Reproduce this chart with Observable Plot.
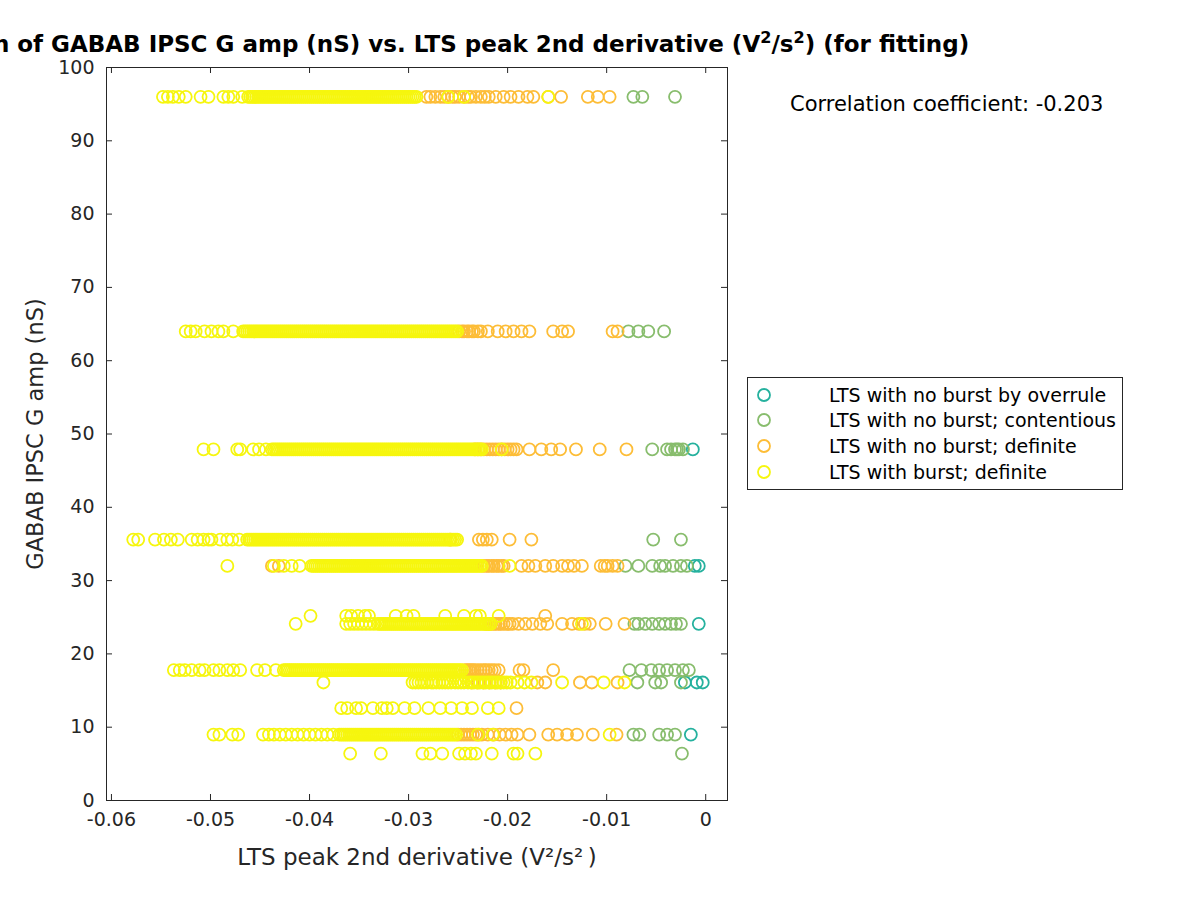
<!DOCTYPE html>
<html>
<head>
<meta charset="utf-8">
<script src="https://cdn.jsdelivr.net/npm/d3@7"></script>
<script src="https://cdn.jsdelivr.net/npm/@observablehq/plot@0.6"></script>
<style>
  html, body { margin: 0; padding: 0; background: #fff; overflow: hidden; }
  #wrap { position: relative; width: 1200px; height: 900px; overflow: hidden; background: #fff; font-family: "DejaVu Sans", sans-serif; color: #000; }
  #chart { position: absolute; left: 0; top: 0; }
  .title { position: absolute; left: 416.5px; top: 28px; transform: translateX(-50%); white-space: nowrap; font-weight: bold; font-size: 23px; line-height: 32px; }
  .title sup { font-size: 0.7em; line-height: 0; vertical-align: 0.55em; }
  .corr { position: absolute; left: 790px; top: 91px; font-size: 21px; line-height: 26px; white-space: nowrap; }
  .legend { position: absolute; left: 747px; top: 377px; width: 374px; height: 111px; border: 1px solid #262626; background: #fff; font-size: 19px; }
  .legend .item { position: absolute; left: 0; height: 24px; line-height: 24px; white-space: nowrap; }
  .legend svg { position: absolute; left: 8px; top: 4px; }
  .legend span { position: absolute; left: 81px; top: 0; }
</style>
</head>
<body>
<div id="wrap">
  <div id="chart"></div>
  <div class="title">Correlation of GABAB IPSC G amp (nS) vs. LTS peak 2nd derivative (V<sup>2</sup>/s<sup>2</sup>) (for fitting)</div>
  <div class="corr" id="corr"></div>
  <div class="legend" id="legend"></div>
</div>
<script>
// ---------------- categories ----------------
const categories = ["LTS with no burst by overrule", "LTS with no burst; contentious", "LTS with no burst; definite", "LTS with burst; definite"];
const categoryColors = ["#25b19e", "#88bd6d", "#fdbd37", "#f6f60e"];
const correlationText = "Correlation coefficient: -0.203";

const xTicks = [-0.06, -0.05, -0.04, -0.03, -0.02, -0.01, 0];
const yTicks = [0, 10, 20, 30, 40, 50, 60, 70, 80, 90, 100];
const xLabel = "LTS peak 2nd derivative (V²/s²\u2009)";
const yLabel = "GABAB IPSC G amp (nS)";

// ---------------- GABAB G amp levels (nS) ----------------
const yLevels = [96, 64, 47.9, 35.6, 32, 25.2, 24.1, 17.8, 16.1, 12.6, 9, 6.4];

// ---------------- LTS with no burst by overrule ----------------
const overrule_47_9 = [-0.0013];
const overrule_32 = [-0.0011, -0.0007];
const overrule_24_1 = [-0.0007];
const overrule_16_1 = [-0.0021, -0.0009, -0.0003];
const overrule_9 = [-0.0015];

// ---------------- LTS with no burst; contentious ----------------
const contentious_96 = [-0.0073, -0.0064, -0.0031];
const contentious_64 = [-0.0078, -0.0068, -0.0058, -0.0042];
const contentious_47_9 = [-0.0054, -0.0039, -0.0035, -0.0031, -0.0029, -0.0027, -0.0023];
const contentious_35_6 = [-0.0053, -0.0025];
const contentious_32 = [-0.0081, -0.0068, -0.0054, -0.0046, -0.0041, -0.0033, -0.0025, -0.0019];
const contentious_24_1 = [-0.0072, -0.0068, -0.0061, -0.0054, -0.0047, -0.0041, -0.0035, -0.0030, -0.0025];
const contentious_17_8 = [-0.0077, -0.0065, -0.0055, -0.0047, -0.0039, -0.0031, -0.0023, -0.0017];
const contentious_16_1 = [-0.0069, -0.0051, -0.0045, -0.0025];
const contentious_9 = [-0.0073, -0.0067, -0.0047, -0.0039, -0.0031];
const contentious_6_4 = [-0.0024];

// ---------------- LTS with no burst; definite ----------------
const noBurst_96 = [-0.0282, -0.0278, -0.0273, -0.0268, -0.0264, -0.0260, -0.0256, -0.0253, -0.0249, -0.0244, -0.0240, -0.0237, -0.0232, -0.0227, -0.0223, -0.0219, -0.0212, -0.0204, -0.0197, -0.0189, -0.0180, -0.0174, -0.0159, -0.0146, -0.0119, -0.0109, -0.0097];
const noBurst_64 = [-0.0249, -0.0246, -0.0244, -0.0241, -0.0239, -0.0236, -0.0234, -0.0230, -0.0227, -0.0220, -0.0210, -0.0202, -0.0194, -0.0186, -0.0178, -0.0154, -0.0145, -0.0139, -0.0094, -0.0089];
const noBurst_47_9 = [-0.0233, -0.0230, -0.0227, -0.0224, -0.0221, -0.0218, -0.0215, -0.0212, -0.0209, -0.0206, -0.0203, -0.0200, -0.0197, -0.0194, -0.0191, -0.0178, -0.0166, -0.0156, -0.0147, -0.0131, -0.0107, -0.0080];
const noBurst_35_6 = [-0.0258, -0.0229, -0.0225, -0.0221, -0.0216, -0.0198, -0.0176];
const noBurst_32 = [-0.0438, -0.0431, -0.0224, -0.0221, -0.0219, -0.0216, -0.0214, -0.0211, -0.0209, -0.0206, -0.0204, -0.0186, -0.0179, -0.0172, -0.0162, -0.0154, -0.0145, -0.0139, -0.0133, -0.0125, -0.0106, -0.0102, -0.0099, -0.0094, -0.0089];
const noBurst_25_2 = [-0.0162];
const noBurst_24_1 = [-0.0222, -0.0219, -0.0217, -0.0214, -0.0212, -0.0209, -0.0207, -0.0204, -0.0201, -0.0198, -0.0195, -0.0189, -0.0182, -0.0175, -0.0167, -0.0160, -0.0145, -0.0135, -0.0128, -0.0122, -0.0117, -0.0101, -0.0082];
const noBurst_17_8 = [-0.0243, -0.0241, -0.0239, -0.0237, -0.0235, -0.0233, -0.0230, -0.0227, -0.0224, -0.0222, -0.0219, -0.0216, -0.0213, -0.0209, -0.0188, -0.0184, -0.0154];
const noBurst_16_1 = [-0.0236, -0.0230, -0.0224, -0.0218, -0.0212, -0.0207, -0.0170, -0.0162, -0.0127, -0.0115, -0.0089];
const noBurst_12_6 = [-0.0191];
const noBurst_9 = [-0.0250, -0.0247, -0.0244, -0.0241, -0.0238, -0.0235, -0.0232, -0.0229, -0.0226, -0.0220, -0.0214, -0.0208, -0.0202, -0.0196, -0.0190, -0.0178, -0.0159, -0.0150, -0.0140, -0.0130, -0.0114, -0.0090];

// ---------------- LTS with burst; definite ----------------
const burst_96 = [-0.0548, -0.0543, -0.0538, -0.0532, -0.0525, -0.0510, -0.0502, -0.0487, -0.0482, -0.0477, -0.0468,
  -0.0462, -0.0460, -0.0458, -0.0456, -0.0454, -0.0452, -0.0450, -0.0448, -0.0446, -0.0444, -0.0442, -0.0440, -0.0438, -0.0436, -0.0434, -0.0432, -0.0430, -0.0428, -0.0426, -0.0424,
  -0.0422, -0.0420, -0.0418, -0.0416, -0.0414, -0.0412, -0.0410, -0.0408, -0.0406, -0.0404, -0.0402, -0.0400, -0.0398, -0.0396, -0.0394, -0.0392, -0.0390, -0.0388, -0.0386, -0.0384,
  -0.0382, -0.0380, -0.0378, -0.0376, -0.0374, -0.0372, -0.0370, -0.0368, -0.0366, -0.0364, -0.0362, -0.0360, -0.0358, -0.0356, -0.0354, -0.0352, -0.0350, -0.0348, -0.0346, -0.0344,
  -0.0342, -0.0340, -0.0338, -0.0336, -0.0334, -0.0332, -0.0330, -0.0328, -0.0326, -0.0324, -0.0322, -0.0320, -0.0318, -0.0316, -0.0314, -0.0312, -0.0310, -0.0308, -0.0306, -0.0304,
  -0.0302, -0.0300, -0.0298, -0.0296, -0.0294, -0.0292, -0.0260, -0.0244, -0.0159];
const burst_64 = [-0.0525, -0.0520, -0.0515, -0.0506, -0.0499, -0.0492, -0.0487, -0.0477,
  -0.0467, -0.0465, -0.0463, -0.0461, -0.0459, -0.0457, -0.0455, -0.0453, -0.0451, -0.0449, -0.0447, -0.0445, -0.0443, -0.0441, -0.0439, -0.0437, -0.0435, -0.0433, -0.0431, -0.0429,
  -0.0427, -0.0425, -0.0423, -0.0421, -0.0419, -0.0417, -0.0415, -0.0413, -0.0411, -0.0409, -0.0407, -0.0405, -0.0403, -0.0401, -0.0399, -0.0397, -0.0395, -0.0393, -0.0391, -0.0389,
  -0.0387, -0.0385, -0.0383, -0.0381, -0.0379, -0.0377, -0.0375, -0.0373, -0.0371, -0.0369, -0.0367, -0.0365, -0.0363, -0.0361, -0.0359, -0.0357, -0.0355, -0.0353, -0.0351, -0.0349,
  -0.0347, -0.0345, -0.0343, -0.0341, -0.0339, -0.0337, -0.0335, -0.0333, -0.0331, -0.0329, -0.0327, -0.0325, -0.0323, -0.0321, -0.0319, -0.0317, -0.0315, -0.0313, -0.0311, -0.0309,
  -0.0307, -0.0305, -0.0303, -0.0301, -0.0299, -0.0297, -0.0295, -0.0293, -0.0291, -0.0289, -0.0287, -0.0285, -0.0283, -0.0281, -0.0279, -0.0277, -0.0275, -0.0273, -0.0271, -0.0269,
  -0.0267, -0.0265, -0.0263, -0.0261, -0.0259, -0.0257, -0.0255, -0.0253, -0.0251];
const burst_47_9 = [-0.0507, -0.0497, -0.0473, -0.0470, -0.0457, -0.0451, -0.0444,
  -0.0438, -0.0436, -0.0434, -0.0432, -0.0430, -0.0428, -0.0426, -0.0424, -0.0422, -0.0420, -0.0418, -0.0416, -0.0414, -0.0412, -0.0410, -0.0408, -0.0406, -0.0404, -0.0402, -0.0400,
  -0.0398, -0.0396, -0.0394, -0.0392, -0.0390, -0.0388, -0.0386, -0.0384, -0.0382, -0.0380, -0.0378, -0.0376, -0.0374, -0.0372, -0.0370, -0.0368, -0.0366, -0.0364, -0.0362, -0.0360,
  -0.0358, -0.0356, -0.0354, -0.0352, -0.0350, -0.0348, -0.0346, -0.0344, -0.0342, -0.0340, -0.0338, -0.0336, -0.0334, -0.0332, -0.0330, -0.0328, -0.0326, -0.0324, -0.0322, -0.0320,
  -0.0318, -0.0316, -0.0314, -0.0312, -0.0310, -0.0308, -0.0306, -0.0304, -0.0302, -0.0300, -0.0298, -0.0296, -0.0294, -0.0292, -0.0290, -0.0288, -0.0286, -0.0284, -0.0282, -0.0280,
  -0.0278, -0.0276, -0.0274, -0.0272, -0.0270, -0.0268, -0.0266, -0.0264, -0.0262, -0.0260, -0.0258, -0.0256, -0.0254, -0.0252, -0.0250, -0.0248, -0.0246, -0.0244, -0.0242, -0.0240,
  -0.0238, -0.0236, -0.0234, -0.0232, -0.0230, -0.0228, -0.0226, -0.0206];
const burst_35_6 = [-0.0578, -0.0573, -0.0556, -0.0547, -0.0540, -0.0533, -0.0519, -0.0513, -0.0507, -0.0502, -0.0499, -0.0490, -0.0483, -0.0478, -0.0471,
  -0.0463, -0.0461, -0.0459, -0.0457, -0.0455, -0.0453, -0.0451, -0.0449, -0.0447, -0.0445, -0.0443, -0.0441, -0.0439, -0.0437, -0.0435, -0.0433, -0.0431, -0.0429, -0.0427, -0.0425,
  -0.0423, -0.0421, -0.0419, -0.0417, -0.0415, -0.0413, -0.0411, -0.0409, -0.0407, -0.0405, -0.0403, -0.0401, -0.0399, -0.0397, -0.0395, -0.0393, -0.0391, -0.0389, -0.0387, -0.0385,
  -0.0383, -0.0381, -0.0379, -0.0377, -0.0375, -0.0373, -0.0371, -0.0369, -0.0367, -0.0365, -0.0363, -0.0361, -0.0359, -0.0357, -0.0355, -0.0353, -0.0351, -0.0349, -0.0347, -0.0345,
  -0.0343, -0.0341, -0.0339, -0.0337, -0.0335, -0.0333, -0.0331, -0.0329, -0.0327, -0.0325, -0.0323, -0.0321, -0.0319, -0.0317, -0.0315, -0.0313, -0.0311, -0.0309, -0.0307, -0.0305,
  -0.0303, -0.0301, -0.0299, -0.0297, -0.0295, -0.0293, -0.0291, -0.0289, -0.0287, -0.0285, -0.0283, -0.0281, -0.0279, -0.0277, -0.0275, -0.0273, -0.0271, -0.0269, -0.0267, -0.0265,
  -0.0263, -0.0261, -0.0259, -0.0257, -0.0255, -0.0253, -0.0251];
const burst_32 = [-0.0483, -0.0436, -0.0426, -0.0418, -0.0410,
  -0.0398, -0.0396, -0.0394, -0.0392, -0.0390, -0.0388, -0.0386, -0.0384, -0.0382, -0.0380, -0.0378, -0.0376, -0.0374, -0.0372, -0.0370, -0.0368, -0.0366, -0.0364, -0.0362, -0.0360,
  -0.0358, -0.0356, -0.0354, -0.0352, -0.0350, -0.0348, -0.0346, -0.0344, -0.0342, -0.0340, -0.0338, -0.0336, -0.0334, -0.0332, -0.0330, -0.0328, -0.0326, -0.0324, -0.0322, -0.0320,
  -0.0318, -0.0316, -0.0314, -0.0312, -0.0310, -0.0308, -0.0306, -0.0304, -0.0302, -0.0300, -0.0298, -0.0296, -0.0294, -0.0292, -0.0290, -0.0288, -0.0286, -0.0284, -0.0282, -0.0280,
  -0.0278, -0.0276, -0.0274, -0.0272, -0.0270, -0.0268, -0.0266, -0.0264, -0.0262, -0.0260, -0.0258, -0.0256, -0.0254, -0.0252, -0.0250, -0.0248, -0.0246, -0.0244, -0.0242, -0.0240,
  -0.0238, -0.0236, -0.0234, -0.0232, -0.0230, -0.0228, -0.0226, -0.0198];
const burst_25_2 = [-0.0399, -0.0363, -0.0358, -0.0351, -0.0344, -0.0340, -0.0313, -0.0302, -0.0295, -0.0263, -0.0244, -0.0232, -0.0228, -0.0209];
const burst_24_1 = [-0.0414, -0.0363, -0.0359, -0.0355, -0.0351, -0.0347, -0.0343, -0.0339, -0.0335, -0.0331,
  -0.0329, -0.0327, -0.0325, -0.0323, -0.0321, -0.0319, -0.0317, -0.0315, -0.0313, -0.0311, -0.0309, -0.0307, -0.0305, -0.0303, -0.0301, -0.0299, -0.0297, -0.0295, -0.0293, -0.0291,
  -0.0289, -0.0287, -0.0285, -0.0283, -0.0281, -0.0279, -0.0277, -0.0275, -0.0273, -0.0271, -0.0269, -0.0267, -0.0265, -0.0263, -0.0261, -0.0259, -0.0257, -0.0255, -0.0253, -0.0251,
  -0.0249, -0.0247, -0.0245, -0.0243, -0.0241, -0.0239, -0.0237, -0.0235, -0.0233, -0.0231, -0.0229, -0.0227, -0.0225, -0.0223, -0.0221, -0.0219, -0.0217, -0.0125];
const burst_17_8 = [-0.0537, -0.0531, -0.0526, -0.0519, -0.0511, -0.0506, -0.0497, -0.0491, -0.0483, -0.0477, -0.0470, -0.0453, -0.0445, -0.0434,
  -0.0426, -0.0424, -0.0422, -0.0420, -0.0418, -0.0416, -0.0414, -0.0412, -0.0410, -0.0408, -0.0406, -0.0404, -0.0402, -0.0400, -0.0398, -0.0396, -0.0394, -0.0392, -0.0390, -0.0388,
  -0.0386, -0.0384, -0.0382, -0.0380, -0.0378, -0.0376, -0.0374, -0.0372, -0.0370, -0.0368, -0.0366, -0.0364, -0.0362, -0.0360, -0.0358, -0.0356, -0.0354, -0.0352, -0.0350, -0.0348,
  -0.0346, -0.0344, -0.0342, -0.0340, -0.0338, -0.0336, -0.0334, -0.0332, -0.0330, -0.0328, -0.0326, -0.0324, -0.0322, -0.0320, -0.0318, -0.0316, -0.0314, -0.0312, -0.0310, -0.0308,
  -0.0306, -0.0304, -0.0302, -0.0300, -0.0298, -0.0296, -0.0294, -0.0292, -0.0290, -0.0288, -0.0286, -0.0284, -0.0282, -0.0280, -0.0278, -0.0276, -0.0274, -0.0272, -0.0270, -0.0268,
  -0.0266, -0.0264, -0.0262, -0.0260, -0.0258, -0.0256, -0.0254, -0.0252, -0.0250, -0.0248, -0.0246];
const burst_16_1 = [-0.0386, -0.0296, -0.0293, -0.0290, -0.0287, -0.0284, -0.0281, -0.0277, -0.0275, -0.0272, -0.0269, -0.0266, -0.0263, -0.0260, -0.0257, -0.0253, -0.0250, -0.0247,
  -0.0244, -0.0240, -0.0237, -0.0234, -0.0231, -0.0228, -0.0225, -0.0222, -0.0219, -0.0216, -0.0213, -0.0210, -0.0207, -0.0204, -0.0201, -0.0197, -0.0190, -0.0183, -0.0176,
  -0.0145, -0.0103, -0.0082];
const burst_12_6 = [-0.0368, -0.0362, -0.0353, -0.0348, -0.0336, -0.0327, -0.0322, -0.0316, -0.0304, -0.0294, -0.0280, -0.0268, -0.0257, -0.0246, -0.0236, -0.0220, -0.0209];
const burst_9 = [-0.0497, -0.0491, -0.0478, -0.0472, -0.0447, -0.0441, -0.0436, -0.0430, -0.0424, -0.0418, -0.0412, -0.0406, -0.0400, -0.0394, -0.0388, -0.0382, -0.0376,
  -0.0370, -0.0368, -0.0366, -0.0364, -0.0362, -0.0360, -0.0358, -0.0356, -0.0354, -0.0352, -0.0350, -0.0348, -0.0346, -0.0344, -0.0342, -0.0340, -0.0338, -0.0336, -0.0334, -0.0332,
  -0.0330, -0.0328, -0.0326, -0.0324, -0.0322, -0.0320, -0.0318, -0.0316, -0.0314, -0.0312, -0.0310, -0.0308, -0.0306, -0.0304, -0.0302, -0.0300, -0.0298, -0.0296, -0.0294, -0.0292,
  -0.0290, -0.0288, -0.0286, -0.0284, -0.0282, -0.0280, -0.0278, -0.0276, -0.0274, -0.0272, -0.0270, -0.0268, -0.0266, -0.0264, -0.0262, -0.0260, -0.0258, -0.0256, -0.0254, -0.0252,
  -0.0230, -0.0215, -0.0097];
const burst_6_4 = [-0.0359, -0.0328, -0.0286, -0.0278, -0.0266, -0.0249, -0.0243, -0.0237, -0.0232, -0.0216, -0.0194, -0.0190, -0.0172];

// ---------------- assemble (category index, G amp level, x values) ----------------
const groups = [
  [0, yLevels[2], overrule_47_9], [0, yLevels[4], overrule_32], [0, yLevels[6], overrule_24_1], [0, yLevels[8], overrule_16_1], [0, yLevels[10], overrule_9],
  [1, yLevels[0], contentious_96], [1, yLevels[1], contentious_64], [1, yLevels[2], contentious_47_9], [1, yLevels[3], contentious_35_6], [1, yLevels[4], contentious_32],
  [1, yLevels[6], contentious_24_1], [1, yLevels[7], contentious_17_8], [1, yLevels[8], contentious_16_1], [1, yLevels[10], contentious_9], [1, yLevels[11], contentious_6_4],
  [2, yLevels[0], noBurst_96], [2, yLevels[1], noBurst_64], [2, yLevels[2], noBurst_47_9], [2, yLevels[3], noBurst_35_6], [2, yLevels[4], noBurst_32], [2, yLevels[5], noBurst_25_2],
  [2, yLevels[6], noBurst_24_1], [2, yLevels[7], noBurst_17_8], [2, yLevels[8], noBurst_16_1], [2, yLevels[9], noBurst_12_6], [2, yLevels[10], noBurst_9],
  [3, yLevels[0], burst_96], [3, yLevels[1], burst_64], [3, yLevels[2], burst_47_9], [3, yLevels[3], burst_35_6], [3, yLevels[4], burst_32], [3, yLevels[5], burst_25_2],
  [3, yLevels[6], burst_24_1], [3, yLevels[7], burst_17_8], [3, yLevels[8], burst_16_1], [3, yLevels[9], burst_12_6], [3, yLevels[10], burst_9], [3, yLevels[11], burst_6_4]
];
const table = [];
for (const [ci, y, xs] of groups) for (const x of xs) table.push({x, y, cat: categories[ci], order: ci});
table.sort((a, b) => a.order - b.order);

// ---------------- layout ----------------
const W = 1200, H = 900;
const mL = 106, mR = 473, mT = 67, mB = 100;
const innerW = W - mL - mR, innerH = H - mT - mB;
const axisColor = "#262626";
const tickLen = 6;

const chart = Plot.plot({
  width: W, height: H,
  marginLeft: mL, marginRight: mR, marginTop: mT, marginBottom: mB,
  style: {fontFamily: "DejaVu Sans", background: "white", color: axisColor, overflow: "visible"},
  x: {domain: [-0.0605, 0.0022]},
  y: {domain: [0, 100]},
  color: {domain: categories, range: categoryColors},
  marks: [
    Plot.dot(table, {x: "x", y: "y", stroke: "cat", r: 6, strokeWidth: 1.8, fill: "none"}),
    Plot.frame({stroke: axisColor, strokeWidth: 1}),
    Plot.tickX(xTicks, {x: d => d, insetTop: innerH - tickLen, stroke: axisColor}),
    Plot.tickX(xTicks, {x: d => d, insetBottom: innerH - tickLen, stroke: axisColor}),
    Plot.tickY(yTicks, {y: d => d, insetRight: innerW - tickLen, stroke: axisColor}),
    Plot.tickY(yTicks, {y: d => d, insetLeft: innerW - tickLen, stroke: axisColor}),
    Plot.axisX({ticks: xTicks, tickSize: 0, tickPadding: 12, fontSize: 19, label: null, fill: axisColor,
      tickFormat: d => d === 0 ? "0" : String(d)}),
    Plot.axisY({ticks: yTicks, tickSize: 0, tickPadding: 12, fontSize: 19, label: null, fill: axisColor}),
    Plot.text([xLabel], {text: d => d, frameAnchor: "bottom", dy: 57, fontSize: 23, lineAnchor: "middle", textAnchor: "middle", fill: axisColor}),
    Plot.text([yLabel], {text: d => d, frameAnchor: "left", dx: -71, rotate: -90, fontSize: 22.5, lineAnchor: "middle", textAnchor: "middle", fill: axisColor})
  ]
});
document.getElementById("chart").appendChild(chart);

document.getElementById("corr").textContent = correlationText;

// legend
const legend = document.getElementById("legend");
const entryTops = [5, 30, 56, 82];
categories.forEach((c, i) => {
  const div = document.createElement("div");
  div.className = "item";
  div.style.top = entryTops[i] + "px";
  div.innerHTML = `<svg width="16" height="16"><circle cx="8" cy="8" r="6" fill="none" stroke="${categoryColors[i]}" stroke-width="1.8"></circle></svg><span>${c}</span>`;
  legend.appendChild(div);
});
</script>
</body>
</html>
